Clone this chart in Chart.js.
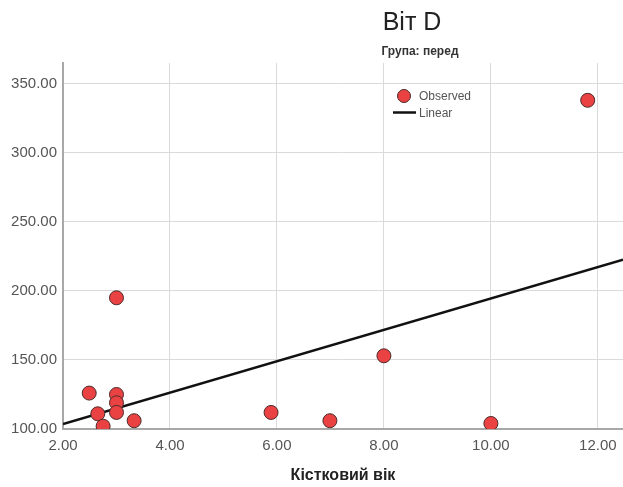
<!DOCTYPE html>
<html>
<head>
<meta charset="utf-8">
<script src="https://cdn.jsdelivr.net/npm/chart.js@4/dist/chart.umd.min.js"></script>
<style>
  html, body { margin: 0; padding: 0; background: #fff; overflow: hidden; }
  #wrap { position: relative; width: 623px; height: 487px; overflow: hidden; }
  #c { display: block; }
</style>
</head>
<body>
<div id="wrap"><canvas id="c" width="631" height="487"></canvas></div>
<script>
// Кістковий вік (x) against вітамін D (y), group "перед"
const boneAge = [2.49, 2.65, 2.75, 3.0, 3.0, 3.0, 3.0, 3.33, 5.89, 6.99, 8.0, 10.0, 11.81];
const vitD    = [126, 111, 102, 195, 125, 119, 112, 106, 112, 106, 153, 104, 338];

// Linear fit, end points across the x range
const fitX = [2.0, 12.47];
const fitY = [103.5, 222.6];

const xTicks = [2, 4, 6, 8, 10, 12];
const yTicks = [100, 150, 200, 250, 300, 350];

const titleText = 'Віт D';
const subtitleText = 'Група: перед';
const xTitle = 'Кістковий вік';
const legendLabels = ['Observed', 'Linear'];

const FONT = '"Liberation Sans", Arial, sans-serif';
const RED = 'rgb(234, 66, 66)';
const EDGE = '#4d2a2a';

const headerPlugin = {
  id: 'header',
  afterDraw(chart) {
    const ctx = chart.ctx;
    ctx.save();
    ctx.textAlign = 'center';
    ctx.textBaseline = 'alphabetic';
    ctx.fillStyle = '#222';
    ctx.font = '25px ' + FONT;
    ctx.fillText(titleText, 412, 30);
    ctx.font = 'bold 12px ' + FONT;
    ctx.fillStyle = '#333';
    ctx.fillText(subtitleText, 420, 55);

    // legend
    ctx.beginPath();
    ctx.arc(404, 96, 6.5, 0, Math.PI * 2);
    ctx.fillStyle = RED;
    ctx.fill();
    ctx.lineWidth = 1;
    ctx.strokeStyle = EDGE;
    ctx.stroke();
    ctx.beginPath();
    ctx.moveTo(393, 112.5);
    ctx.lineTo(416, 112.5);
    ctx.lineWidth = 2.5;
    ctx.strokeStyle = '#111';
    ctx.stroke();
    ctx.textAlign = 'left';
    ctx.textBaseline = 'middle';
    ctx.fillStyle = '#555';
    ctx.font = '12px ' + FONT;
    ctx.fillText(legendLabels[0], 419, 97);
    ctx.fillText(legendLabels[1], 419, 114);
    ctx.restore();
  }
};

const keepTicks = (list) => (scale) => {
  scale.ticks = list.map(v => ({ value: v }));
};

new Chart(document.getElementById('c'), {
  type: 'scatter',
  data: {
    datasets: [
      {
        label: legendLabels[1],
        type: 'line',
        data: fitX.map((x, i) => ({ x, y: fitY[i] })),
        borderColor: '#111',
        borderWidth: 2.5,
        pointRadius: 0,
        fill: false,
        order: 2,
        clip: 0
      },
      {
        label: legendLabels[0],
        data: boneAge.map((x, i) => ({ x, y: vitD[i] })),
        backgroundColor: RED,
        borderColor: EDGE,
        borderWidth: 1,
        pointRadius: 7,
        order: 1,
        clip: 0
      }
    ]
  },
  options: {
    responsive: false,
    animation: false,
    layout: { padding: { top: 63, right: 0, left: 0, bottom: 0 } },
    plugins: {
      legend: { display: false },
      title: { display: false },
      tooltip: { enabled: false }
    },
    scales: {
      x: {
        type: 'linear',
        min: 2,
        max: 12.47,
        afterBuildTicks: keepTicks(xTicks),
        afterFit: (s) => { s.height = 58; },
        grid: { color: '#dadada', lineWidth: 1, drawTicks: false },
        border: { color: '#a8a8a8', width: 2 },
        ticks: {
          padding: 8,
          color: '#555',
          font: { family: FONT, size: 15 },
          callback: (v) => Number(v).toFixed(2)
        },
        title: {
          display: true,
          text: xTitle,
          color: '#222',
          font: { family: FONT, size: 16, weight: 'bold' },
          padding: { top: 2, bottom: 2 }
        }
      },
      y: {
        type: 'linear',
        min: 100,
        max: 365,
        afterBuildTicks: keepTicks(yTicks),
        afterFit: (s) => { s.width = 63; },
        grid: { color: '#dadada', lineWidth: 1, drawTicks: false },
        border: { color: '#a8a8a8', width: 2 },
        ticks: {
          padding: 6,
          color: '#555',
          font: { family: FONT, size: 15 },
          callback: (v) => Number(v).toFixed(2)
        }
      }
    }
  },
  plugins: [headerPlugin]
});
</script>
</body>
</html>
